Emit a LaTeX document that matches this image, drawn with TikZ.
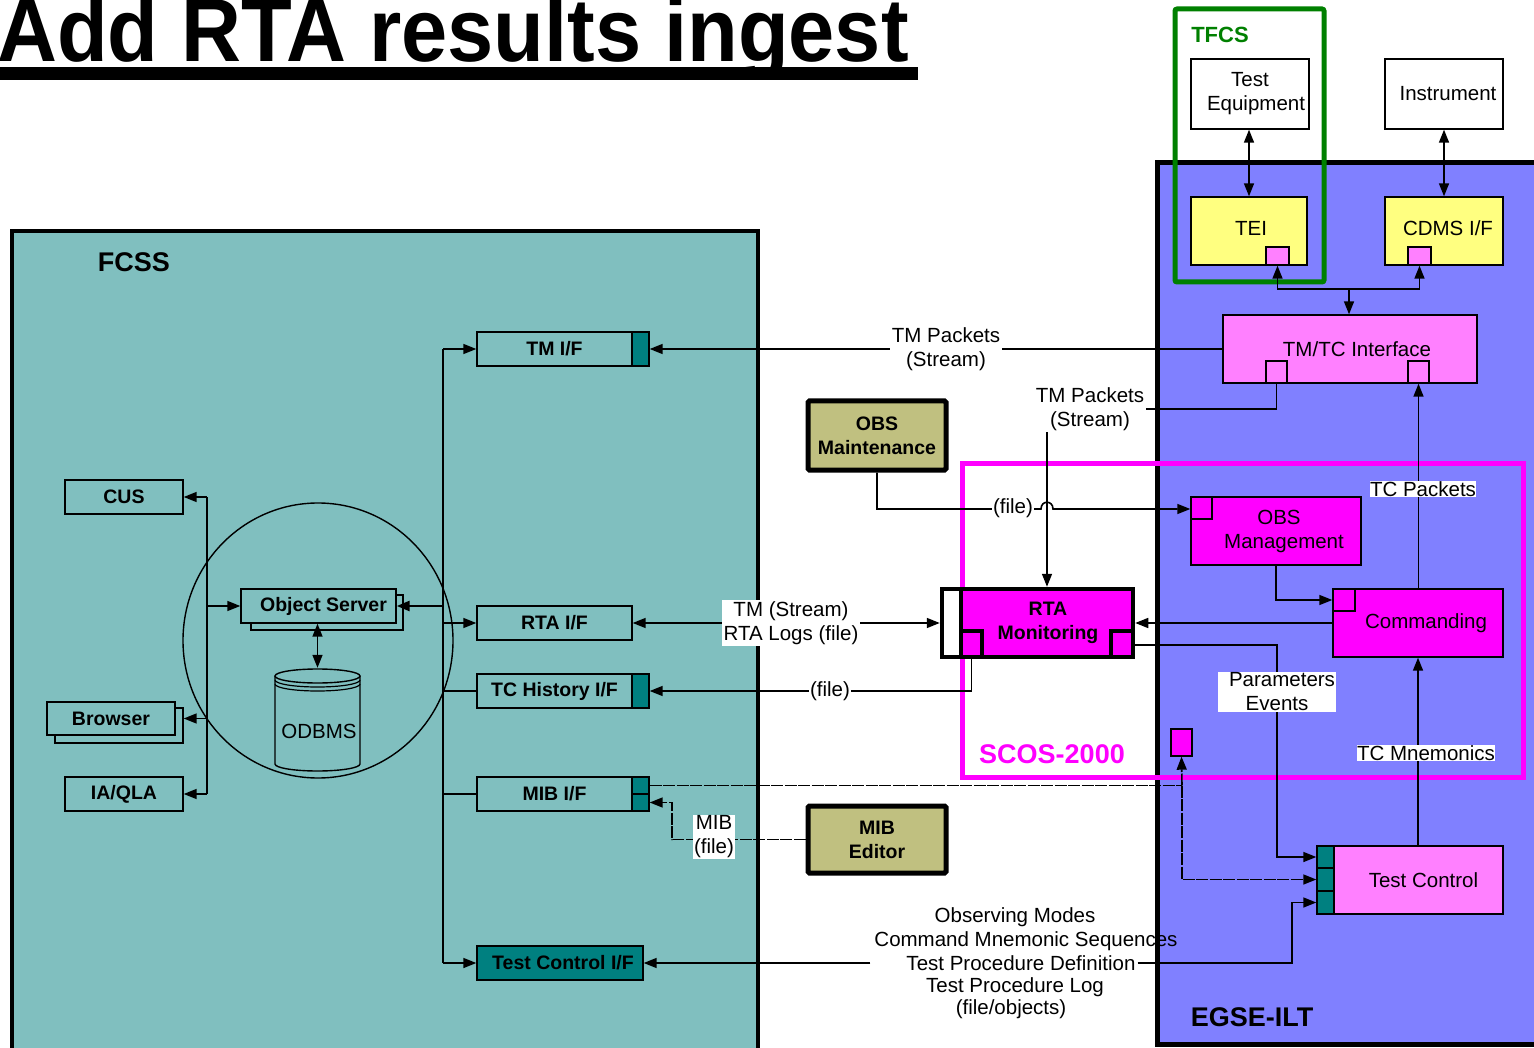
\documentclass[tikz,border=0pt]{standalone}
\usepackage{fontspec}
\setmainfont{Liberation Sans}
\usetikzlibrary{arrows.meta,shapes.geometric}
\definecolor{fcssbg}{RGB}{128,191,191}
\definecolor{egsebg}{RGB}{128,128,255}
\definecolor{tealc}{RGB}{0,128,128}
\definecolor{olivec}{RGB}{192,192,128}
\definecolor{pinkc}{RGB}{255,128,255}
\definecolor{magc}{RGB}{255,0,255}
\definecolor{yellowc}{RGB}{255,255,128}
\definecolor{tfcsgreen}{RGB}{0,128,0}
\newcommand\myreg{\fontsize{20.5}{24}\selectfont}
\newcommand\mybold{\fontsize{19.5}{24}\selectfont\bfseries}
\newcommand\mybig{\fontsize{27}{30}\selectfont\bfseries}
\newcommand\mytitle{\fontsize{83}{90}\selectfont\bfseries}
\newcommand\mybx[7]{\node[#2,minimum width={#5-#3},minimum height={#6-#4}] (#1) at ({(#3+#5)/2},{(#4+#6)/2}) {#7};}
\begin{document}
\begin{tikzpicture}[x=1pt,y=-1pt,
  conn/.style={line width=1.6pt},
  arr/.style={conn,-{Triangle[length=13pt,width=10pt]}},
  darr/.style={conn,{Triangle[length=13pt,width=10pt]}-{Triangle[length=13pt,width=10pt]}},
  dsh/.style={dash pattern=on 12pt off 1.5pt},
  fbox/.style={draw,line width=1.4pt,fill=fcssbg,inner sep=0pt,font=\mybold,align=center},
  tport/.style={draw,line width=1.4pt,fill=tealc,inner sep=0pt},
  ebox/.style={draw,line width=1.4pt,inner sep=0pt,font=\myreg,align=center},
  tbox/.style={draw,line width=5pt,fill=olivec,inner sep=0pt,font=\mybold,align=center,rounded corners=1.5pt},
  lbl/.style={fill=white,inner sep=1.5pt,font=\myreg,align=center},
  txt/.style={inner sep=0pt,align=center},
]
\fill[white] (0,0) rectangle (1534,1048);
\useasboundingbox (0,0) rectangle (1534,1048);

% title
\node[anchor=base west,inner sep=0pt,font=\mytitle] (title) at (-3,62) {\scalebox{1}[1.08]{Add RTA results ingest}};
\fill (0,67) rectangle (918,80);

% containers
\mybx{fcss}{draw,line width=4pt,fill=fcssbg}{12}{231}{758}{1075}{}
\node[txt,font=\mybig] (fcsslbl) at (134,262) {FCSS};
\mybx{egse}{draw,line width=5pt,fill=egsebg}{1157}{163}{1560}{1044}{}
\node[txt,font=\mybig] (egselbl) at (1252,1017) {EGSE-ILT};
\mybx{scos}{draw=magc,line width=5pt}{962}{463}{1523}{777}{}
\node[txt,font=\mybig,text=magc] (scoslbl) at (1052,754) {SCOS-2000};
\mybx{tfcs}{draw=tfcsgreen,line width=5pt,rounded corners=2pt}{1175}{9}{1324}{282}{}
\node[txt,font=\fontsize{22}{24}\selectfont\bfseries,text=tfcsgreen] (tfcslbl) at (1220,35) {TFCS};

% FCSS content
\node[draw,ellipse,line width=1.4pt,minimum width=270,minimum height=275,inner sep=0pt] (osgroup) at (318,640.5) {};
\mybx{cus}{fbox}{65}{480}{183}{514}{CUS}
\mybx{browserb}{fbox}{55}{708}{183}{743}{}
\mybx{browser}{fbox}{47}{702}{175}{735}{Browser}
\mybx{iaqla}{fbox}{65}{777}{183}{811}{IA/QLA}
\mybx{objsrvb}{fbox}{251}{595}{403}{630}{}
\mybx{objsrv}{fbox}{241}{589}{396}{623}{\hspace*{10pt}Object Server}
\fill[fcssbg] (275,676) -- (275,764) arc[start angle=180,end angle=0,x radius=42.5,y radius=7] -- (360,676) arc[start angle=0,end angle=-180,x radius=42.5,y radius=7] -- cycle;
\draw[line width=1.4pt] (275,676) -- (275,764) arc[start angle=180,end angle=0,x radius=42.5,y radius=7] -- (360,676);
\draw[line width=1.4pt] (317.5,676) ellipse[x radius=42.5,y radius=7];
\draw[line width=1.2pt] (275,680) arc[start angle=180,end angle=0,x radius=42.5,y radius=7];
\draw[line width=1.2pt] (275,684) arc[start angle=180,end angle=0,x radius=42.5,y radius=7];
\mybx{odbms}{inner sep=0pt}{275}{668}{360}{771}{}
\node[txt,font=\myreg] (odbmstxt) at (319,731) {ODBMS};

\mybx{tmif}{fbox}{477}{332}{632}{366}{TM I/F}
\mybx{tmifp}{tport}{632}{332}{649}{366}{}
\mybx{rtaif}{fbox}{477}{606}{632}{640}{RTA I/F}
\mybx{tchif}{fbox}{477}{674}{632}{708}{TC History I/F}
\mybx{tchifp}{tport}{632}{674}{649}{708}{}
\mybx{mibif}{fbox}{477}{777}{632}{811}{MIB I/F}
\mybx{mibp1}{tport}{632}{777}{649}{794}{}
\mybx{mibp2}{tport}{632}{794}{649}{811}{}
\mybx{tcif}{fbox,fill=tealc}{477}{946}{643}{980}{\hspace*{6pt}Test Control I/F}

% middle
\mybx{obsmaint}{tbox}{808}{401}{946}{470}{OBS\\Maintenance}
\mybx{mibed}{tbox}{808}{806}{946}{873}{MIB\\Editor}

% EGSE content
\mybx{testeq}{ebox,fill=white}{1191}{59}{1309}{129}{Test\\\hspace*{12pt}Equipment}
\mybx{instr}{ebox,fill=white}{1385}{59}{1503}{129}{\hspace*{8pt}Instrument}
\mybx{tei}{ebox,fill=yellowc}{1191}{197}{1307}{265}{}
\node[txt,font=\myreg] (teitxt) at (1251,228) {TEI};
\mybx{teip}{ebox,fill=pinkc}{1266}{247}{1289}{265}{}
\mybx{cdms}{ebox,fill=yellowc}{1385}{197}{1503}{265}{}
\node[txt,font=\myreg] (cdmstxt) at (1448,228) {CDMS I/F};
\mybx{cdmsp}{ebox,fill=pinkc}{1408}{247}{1431}{265}{}
\mybx{tmtc}{ebox,fill=pinkc}{1223}{315}{1477}{383}{\hspace*{14pt}TM/TC Interface}
\mybx{tmtcpl}{ebox,fill=pinkc}{1266}{361}{1287}{383}{}
\mybx{tmtcpr}{ebox,fill=pinkc}{1408}{361}{1429}{383}{}
\mybx{obsmgmt}{ebox,fill=magc}{1191}{497}{1361}{565}{\hspace*{6pt}OBS\\\hspace*{16pt}Management}
\mybx{obsmgmtp}{ebox,fill=magc}{1191}{497}{1212}{519}{}
\mybx{comm}{ebox,fill=magc}{1333}{589}{1503}{657}{\hspace*{16pt}Commanding}
\mybx{commp}{ebox,fill=magc}{1333}{589}{1355}{611}{}
\mybx{rtamon}{draw,line width=4.5pt,fill=magc}{942}{589}{1133}{657}{}
\mybx{rtastrip}{draw,line width=4pt,fill=white}{942}{589}{961}{657}{}
\mybx{rtapl}{draw,line width=4pt,fill=magc}{961}{631}{982}{657}{}
\mybx{rtapr}{draw,line width=4pt,fill=magc}{1111}{631}{1133}{657}{}
\node[txt,font=\mybold] (rtatxt) at (1048,623) {RTA\\Monitoring};
\mybx{smallbox}{ebox,fill=magc}{1171}{729}{1192}{756}{}
\mybx{tcmain}{ebox,fill=pinkc}{1334}{846}{1503}{914}{\hspace*{10pt}Test Control}
\mybx{tcp1}{tport}{1317}{846}{1334}{868}{}
\mybx{tcp2}{tport}{1317}{868}{1334}{891}{}
\mybx{tcp3}{tport}{1317}{891}{1334}{914}{}

% FCSS connectors
\coordinate (lbus) at (207,0);
\draw[conn] (lbus |- cus.east) -- (lbus |- iaqla.east);
\draw[arr] (lbus |- cus.east) -- (cus.east);
\draw[arr] (lbus |- browser.east) -- (browserb.east |- browser.east);
\draw[arr] (lbus |- iaqla.east) -- (iaqla.east);
\draw[arr] (lbus |- objsrv.west) -- (objsrv.west);
\coordinate (rbus) at (443,0);
\draw[conn] (rbus |- tmif.west) -- (rbus |- tcif.west);
\draw[arr] (rbus |- tmif.west) -- (tmif.west);
\draw[arr] (rbus |- rtaif.west) -- (rtaif.west);
\draw[conn] (rbus |- tchif.west) -- (tchif.west);
\draw[conn] (rbus |- mibif.west) -- (mibif.west);
\draw[arr] (rbus |- tcif.west) -- (tcif.west);
\draw[arr,line width=2.6pt] (rbus |- objsrv.east) -- (objsrv.east);
\draw[darr] (odbms.north |- objsrv.south) -- (odbms.north);

% EGSE top connectors
\draw[darr] (tei.north |- testeq.south) -- (tei.north);
\draw[darr] (cdms.north |- instr.south) -- (cdms.north);
\coordinate (jn) at (1349,289);
\draw[darr] (teip.south) |- (cdmsp.south |- jn) -- (cdmsp.south);
\draw[arr] (jn) -- (jn |- tmtc.north);

% TM packets
\draw[arr] (tmtc.west) -- (tmifp.east |- tmtc.west);
\node[lbl] (tmpk1) at (946,349) {TM Packets\\(Stream)};
\coordinate (rtav) at (1047,409);
\draw[arr] (tmtcpl.south) |- (rtav) -- (rtav |- rtamon.north);
\node[lbl] (tmpk2) at (1090,409) {TM Packets\\(Stream)};

% TC packets
\draw[arr] (tmtcpr.south |- comm.north) -- (tmtcpr.south);
\node[lbl,inner sep=0.5pt] (tcpk) at (1423,489) {TC Packets};

% OBS maintenance to OBS management (with hop)
\coordinate (hopL) at (1041,509);
\coordinate (hopR) at (1053,509);
\draw[arr] (obsmaint.south) |- (hopL) .. controls +(0,-9) and +(0,-9) .. (hopR) -- (obsmgmt.west |- hopR);
\node[lbl,inner sep=1pt] (file1) at (1013,508) {(file)};

% OBS management to commanding
\draw[arr] (obsmgmt.south) |- (commp.west);
% commanding to RTA
\draw[arr] (comm.west) -- (rtamon.east |- comm.west);
% RTA <-> RTA I/F
\draw[darr] (rtamon.west |- rtaif.east) -- (rtaif.east);
\node[lbl] (tmstream) at (791,623) {TM (Stream)\\RTA Logs (file)};
% RTA to test control
\coordinate (pv) at (1277,857);
\draw[arr] (rtamon.east |- 0,645) -| (pv) -- (tcp1.west);
\node[lbl,inner sep=1pt] (params) at (1277,692) {\hspace*{10pt}Parameters\\Events};
% RTA to TC history
\draw[arr] (rtapl.south) |- (tchifp.east);
\node[lbl,inner sep=1pt] (file2) at (830,691) {(file)};

% MIB
\coordinate (mv) at (1182,785.5);
\draw[conn,dsh] (mibp1.east) -- (mv);
\draw[arr,dsh] (mv) -- (smallbox.south);
\draw[arr,dsh] (mv) |- (tcp2.west);
\coordinate (mec) at (672,0);
\draw[arr,dsh] (mibed.west) -| (mec |- mibp2.east) -- (mibp2.east);
\node[lbl,inner sep=1pt] (mibfile) at (714,837) {MIB\\(file)};

% TC mnemonics
\draw[arr] (comm.south |- tcmain.north) -- (comm.south);
\node[lbl,inner sep=0.5pt] (tcmn) at (1426,753) {TC Mnemonics};

% Test control I/F
\node[txt,font=\myreg] (om) at (1015,917) {Observing Modes};
\node[txt,font=\myreg] (cms) at (1026,941) {Command Mnemonic Sequences};
\node[txt,font=\myreg,inner xsep=2pt] (tpd) at (1021,963) {Test Procedure Definition};
\node[txt,font=\myreg] (tpl) at (1015,987) {Test Procedure Log};
\node[txt,font=\myreg] (fo) at (1011,1009) {(file/objects)};
\draw[arr] ([xshift=-34pt]tpd.west) -- (tcif.east |- tpd.west);
\coordinate (tcv) at (1292,0);
\draw[arr] (tpd.east) -| (tcv |- tcp3.west) -- (tcp3.west);
\end{tikzpicture}
\end{document}
